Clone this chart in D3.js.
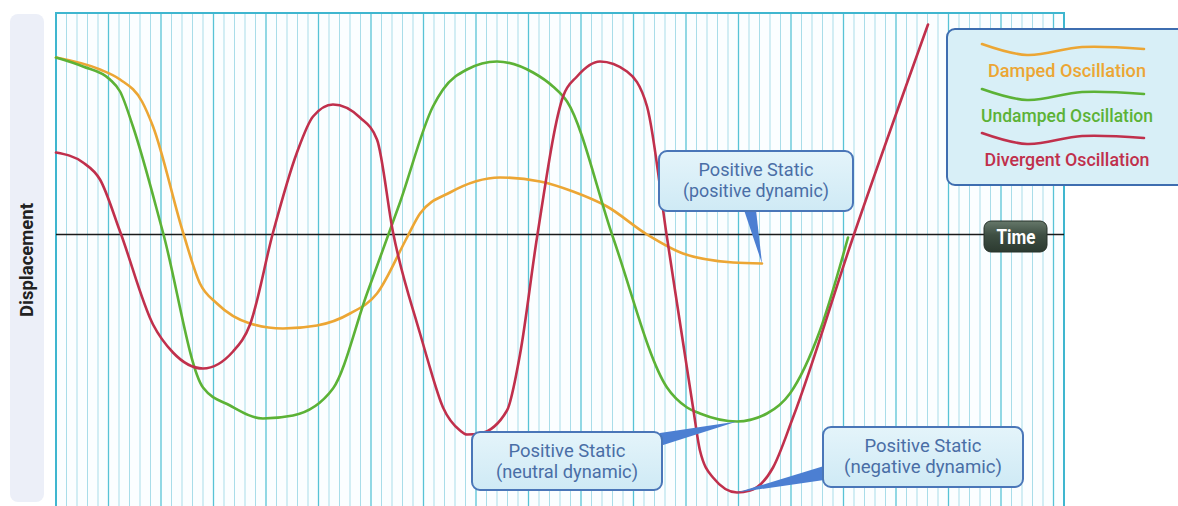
<!DOCTYPE html>
<html><head><meta charset="utf-8">
<script src="https://cdn.jsdelivr.net/npm/d3@7"></script>
<style>
html,body{margin:0;padding:0;background:#ffffff;}
svg{display:block;}
text{font-family:Roboto,"Liberation Sans",sans-serif;}
</style></head>
<body><svg id="c" width="1178" height="506"></svg>
<script>
// ---- data (time units, displacement units) ----
const dampedT   = [0,4.19,6.10,8.19,9.24,12.10,13.71,15.33,18.48,21.62,24.86,28.0,30.57,33.43,34.67,37.52,42.29,46.10,49.24,52.48,56.29,59.71,64.48,67.24];
const dampedV   = [1.77,1.65,1.55,1.33,1.08,0.02,-0.49,-0.69,-0.89,-0.94,-0.91,-0.79,-0.59,-0.03,0.21,0.42,0.57,0.53,0.43,0.28,0.0,-0.19,-0.28,-0.29];
const undampedT = [0,2.57,5.14,6.10,7.33,10.19,14.0,16.57,19.71,22.57,26.38,29.62,32.76,35.90,36.86,39.14,42.0,45.43,47.33,48.67,53.05,58.19,60.10,61.33,64.86,67.71,69.90,72.76,75.43];
const undampedV = [1.77,1.68,1.55,1.43,1.08,0.02,-1.53,-1.71,-1.84,-1.81,-1.54,-0.59,0.32,1.28,1.45,1.65,1.73,1.62,1.48,1.33,-0.03,-1.53,-1.73,-1.79,-1.87,-1.79,-1.59,-0.96,-0.03];
const divergentT = [0,2.57,4.19,6.10,9.24,11.14,14.0,16.86,18.48,20.67,22.95,24.48,26.38,28.95,30.57,32.10,34.67,35.33,36.86,38.48,39.14,40.38,42.95,44.19,45.81,48.29,49.62,51.81,54.38,56.29,58.19,60.67,61.33,62.57,64.86,66.10,68.29,70.19,75.90,83.05];
const divergentV = [0.82,0.72,0.55,0.03,-0.90,-1.18,-1.34,-1.17,-0.90,0.02,0.82,1.18,1.30,1.17,0.95,0.02,-0.99,-1.23,-1.73,-1.96,-2.0,-1.99,-1.76,-1.20,-0.03,1.38,1.58,1.73,1.63,1.28,-0.03,-1.73,-2.16,-2.43,-2.58,-2.56,-2.33,-1.83,-0.03,2.10];

const seriesNames = ["Damped Oscillation","Undamped Oscillation","Divergent Oscillation"];
const seriesColors = ["#eca634","#5cb236","#c0304c"];
const legendTextLen = [158,172,165];
const callouts = [
  {lines:["Positive Static","(positive dynamic)"], len:[115,146], t:67.24, v:-0.29},
  {lines:["Positive Static","(neutral dynamic)"], len:[117,142], t:64.86, v:-1.87},
  {lines:["Positive Static","(negative dynamic)"], len:[117,158], t:64.86, v:-2.58}
];
const axisLabelX = "Time";
const axisLabelY = "Displacement";
// legend swatch wave shape (relative offsets)
const waveDX = [0,45,100,162];
const waveDY = [0,11,3,5];

// ---- layout ----
const W=1178,H=506;
const L=56,R=1064,T=13,B=506;
const x = d3.scaleLinear().domain([0,96]).range([L,R]);
const y = d3.scaleLinear().domain([-2.715,2.215]).range([B,T]);

const svg = d3.select("#c");
const defs = svg.append("defs");
const gCall = defs.append("linearGradient").attr("id","gcall").attr("x1",0).attr("y1",0).attr("x2",0).attr("y2",1);
gCall.append("stop").attr("offset","0%").attr("stop-color","#e4f4fa");
gCall.append("stop").attr("offset","100%").attr("stop-color","#cfeaf5");
const gTime = defs.append("linearGradient").attr("id","gtime").attr("x1",0).attr("y1",0).attr("x2",0).attr("y2",1);
gTime.append("stop").attr("offset","0%").attr("stop-color","#66786a");
gTime.append("stop").attr("offset","45%").attr("stop-color","#3e4f43");
gTime.append("stop").attr("offset","100%").attr("stop-color","#2c3a30");

// y label strip
svg.append("rect").attr("x",10).attr("y",14).attr("width",34).attr("height",488).attr("rx",8)
  .attr("fill","#eceff8");
svg.append("text").attr("transform",`translate(33,260) rotate(-90)`)
  .attr("text-anchor","middle").attr("font-size",18).attr("font-weight","bold").attr("fill","#222")
  .attr("textLength",114).attr("lengthAdjust","spacingAndGlyphs")
  .text(axisLabelY);

// plot background
svg.append("rect").attr("x",L).attr("y",T).attr("width",R-L).attr("height",B-T).attr("fill","#fbfeff");

// grid
const ticks = d3.range(0,97,1);
svg.append("g").selectAll("line").data(ticks).join("line")
  .attr("x1",d=>x(d)).attr("x2",d=>x(d)).attr("y1",T).attr("y2",B)
  .attr("stroke",d=>d%5===0?"#58c3d6":"#a9dde9")
  .attr("stroke-width",d=>d%5===0?1.3:1);

// border
svg.append("path").attr("d",`M${L},${B}V${T}H${R}V${B}`).attr("fill","none")
  .attr("stroke","#3fb6cf").attr("stroke-width",2);

// zero line
svg.append("line").attr("x1",L).attr("x2",R).attr("y1",y(0)).attr("y2",y(0))
  .attr("stroke","#1a1a1a").attr("stroke-width",1.5);

// curves
const line = d3.line().x(d=>x(d[0])).y(d=>y(d[1])).curve(d3.curveMonotoneX);
const series = [d3.zip(dampedT,dampedV), d3.zip(undampedT,undampedV), d3.zip(divergentT,divergentV)];
svg.append("g").selectAll("path").data(series).join("path")
  .attr("d",line).attr("fill","none")
  .attr("stroke",(d,i)=>seriesColors[i]).attr("stroke-width",2.6)
  .attr("stroke-linejoin","round").attr("stroke-linecap","round");

// Time label
svg.append("rect").attr("x",984).attr("y",221).attr("width",63).attr("height",31).attr("rx",7)
  .attr("fill","url(#gtime)").attr("stroke","#27332a").attr("stroke-width",1);
svg.append("text").attr("x",1016).attr("y",244).attr("text-anchor","middle")
  .attr("font-size",21).attr("font-weight","bold").attr("fill","#ffffff")
  .attr("textLength",39).attr("lengthAdjust","spacingAndGlyphs").text(axisLabelX);

// legend
svg.append("rect").attr("x",947).attr("y",29).attr("width",245).attr("height",156).attr("rx",8)
  .attr("fill","#d8eff7").attr("stroke","#3e6db0").attr("stroke-width",2);
const legendRows = [44,89,133];
seriesNames.forEach((n,i)=>{
  const y0 = legendRows[i];
  const pts = d3.zip(waveDX.map(d=>982+d), waveDY.map(d=>y0+d));
  svg.append("path").attr("d",d3.line().curve(d3.curveCatmullRom)(pts)).attr("fill","none")
    .attr("stroke",seriesColors[i]).attr("stroke-width",2.6).attr("stroke-linecap","round");
  svg.append("text").attr("x",1067).attr("y",y0+33).attr("text-anchor","middle")
    .attr("font-size",19).attr("font-weight",500).attr("fill",seriesColors[i])
    .attr("textLength",legendTextLen[i]).attr("lengthAdjust","spacingAndGlyphs").text(n);
});

// callouts
const boxes = [
  {x:659,y:151,w:194,h:60, wedge:[[744,210],[756,210]]},
  {x:472,y:432,w:190,h:58, wedge:[[660,433],[660,446]]},
  {x:823,y:427,w:200,h:60, wedge:[[824,466],[824,480]]}
];
callouts.forEach((c,i)=>{
  const b = boxes[i];
  const tip = [x(c.t), y(c.v)];
  svg.append("path").attr("d",d3.line()([b.wedge[0],tip,b.wedge[1]])+"Z").attr("fill","#4c7fd2");
  svg.append("rect").attr("x",b.x).attr("y",b.y).attr("width",b.w).attr("height",b.h).attr("rx",8)
    .attr("fill","url(#gcall)").attr("stroke","#4a76b8").attr("stroke-width",2);
  c.lines.forEach((s,j)=>{
    svg.append("text").attr("x",b.x+b.w/2).attr("y",b.y+25+j*21).attr("text-anchor","middle")
      .attr("font-size",17.5).attr("fill","#4a6ea6")
      .attr("textLength",c.len[j]).attr("lengthAdjust","spacingAndGlyphs").text(s);
  });
});
</script></body></html>
